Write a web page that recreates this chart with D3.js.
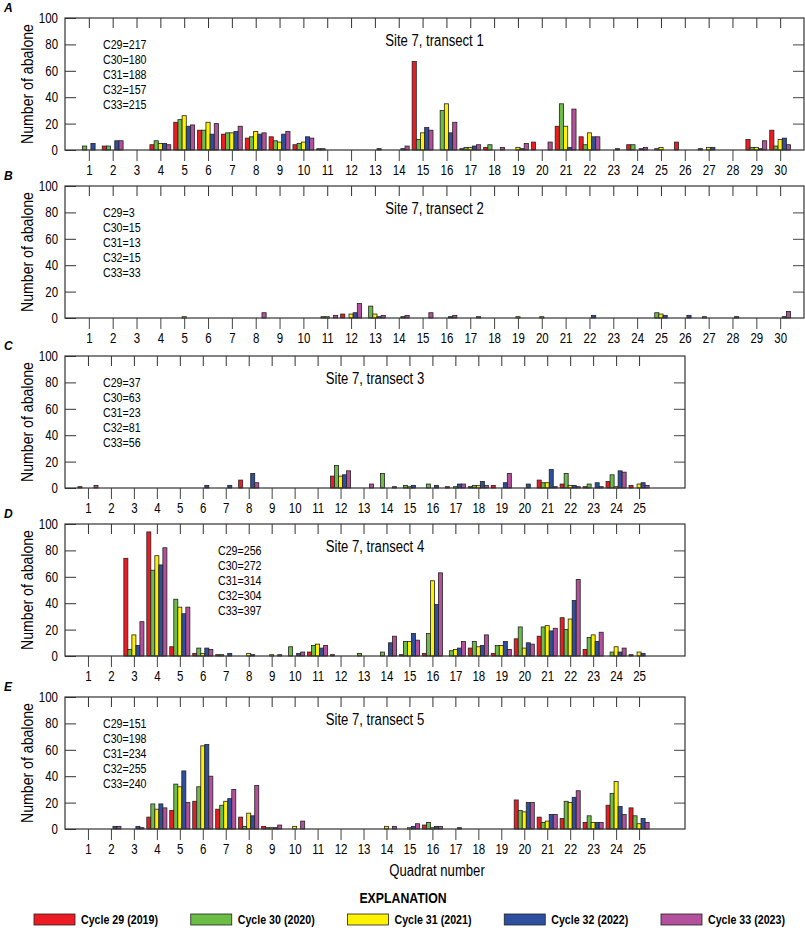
<!DOCTYPE html>
<head>
  <meta charset="utf-8">
  <script src="https://d3js.org/d3.v7.min.js"></script>
  <style>
    body { margin:0; background:#fff; }
    text { font-family: "Liberation Sans", Arial, sans-serif; }
    /* squeeze text horizontally to imitate the condensed face */
    .nar { transform-box: fill-box; transform: scaleX(0.82); }
    .nar-s { transform-origin: left center; }
    .nar-m { transform-origin: center center; }
    .nar-e { transform-origin: right center; }
  </style>
</head>
<body>
<script>

  // series (cycles) and their colours
  var cycles = ["Cycle 29 (2019)", "Cycle 30 (2020)", "Cycle 31 (2021)", "Cycle 32 (2022)", "Cycle 33 (2023)"];
  var cycleCodes = ["C29", "C30", "C31", "C32", "C33"];
  var colors = ["#ed1c24", "#6cbd45", "#fff200", "#2e4f9f", "#b5519c"];

  var yTicks = [0, 20, 40, 60, 80, 100];

  // one row per quadrat: [C29, C30, C31, C32, C33]
  var transect1 = [
    [0,3,0,5,0], [3,3,0,7,7], [0,0,0,0,0], [4,7,5,5,4], [21,23,26,18,19],
    [15,15,21,12,20], [12,13,13,14,18], [9,10,14,12,13], [10,7,6,12,14], [4,5,6,10,9],
    [1,1,0,0,0], [0,0,0,0,0], [0,0,0,1,0], [0,0,0,1,3], [67,8,13,17,15],
    [0,30,35,13,21], [1,2,2,3,4], [2,4,0,0,2], [0,0,2,1,5], [6,0,0,0,6],
    [18,35,18,2,31], [10,4,13,10,10], [0,0,0,1,0], [4,4,0,1,2], [0,1,2,0,0],
    [6,0,0,0,0], [1,0,2,2,0], [0,0,0,0,0], [8,2,2,1,7], [15,3,8,9,4]
  ];
  var transect2 = [
    [0,0,0,0,0], [0,0,0,0,0], [0,0,0,0,0], [0,0,0,0,0], [0,0,1,0,0],
    [0,0,0,0,0], [0,0,0,0,0], [0,0,0,0,4], [0,0,0,0,0], [0,0,0,0,0],
    [0,1,1,0,2], [3,0,3,4,11], [0,9,3,1,2], [0,0,0,1,2], [0,0,0,0,4],
    [0,0,0,1,2], [0,0,0,0,1], [0,0,0,0,0], [0,0,1,0,0], [0,0,1,0,0],
    [0,0,0,0,0], [0,0,0,2,0], [0,0,0,0,0], [0,0,0,0,0], [0,4,3,2,0],
    [0,0,0,2,0], [0,1,0,0,0], [0,0,0,1,0], [0,0,0,0,0], [0,0,0,1,5]
  ];
  var transect3 = [
    [1,0,0,0,2], [0,0,0,0,0], [0,0,0,0,0], [0,0,0,0,0], [0,0,0,0,0],
    [0,0,0,2,0], [0,0,0,2,0], [6,0,0,11,4], [0,0,0,0,0], [0,0,0,0,0],
    [0,0,0,0,0], [9,17,9,10,13], [0,0,0,0,3], [0,11,0,0,1], [0,2,1,2,0],
    [0,3,0,2,0], [1,0,1,3,3], [1,2,2,5,2], [2,0,0,4,11], [0,0,0,3,0],
    [6,4,4,14,1], [3,11,2,2,1], [1,3,0,4,1], [5,10,1,13,12], [2,0,3,4,2]
  ];
  var transect4 = [
    [0,0,0,0,0], [0,0,0,0,0], [74,5,16,8,26], [94,65,76,69,82], [7,43,37,32,37],
    [2,6,2,6,5], [1,1,0,2,0], [0,0,2,1,0], [0,0,1,0,1], [0,7,0,2,3],
    [3,8,9,6,8], [1,0,0,0,0], [0,2,0,0,0], [0,3,0,10,15], [1,11,11,17,12],
    [2,17,57,39,63], [0,4,5,6,11], [6,11,7,8,16], [2,8,8,11,5], [13,22,6,10,9],
    [15,22,23,19,21], [29,20,28,42,58], [5,14,16,11,18], [0,3,7,3,6], [1,0,3,2,0]
  ];
  var transect5 = [
    [0,0,0,0,0], [0,0,0,2,2], [0,0,0,2,1], [9,19,15,19,16], [14,34,32,44,20],
    [21,32,63,64,40], [15,18,21,23,30], [9,2,12,10,33], [2,1,1,1,3], [0,0,2,0,6],
    [0,0,0,0,0], [0,0,0,0,0], [0,0,0,0,0], [0,0,2,0,2], [0,0,1,2,4],
    [3,5,1,2,2], [0,0,0,1,0], [0,0,0,0,0], [0,0,0,0,0], [22,14,13,20,20],
    [9,5,6,11,11], [8,21,20,24,29], [5,10,5,5,5], [18,27,36,17,11], [16,10,4,8,5]
  ];

  // totals printed in each panel
  var totals1 = [217, 180, 188, 157, 215];
  var totals2 = [3, 15, 13, 15, 33];
  var totals3 = [37, 63, 23, 81, 56];
  var totals4 = [256, 272, 314, 304, 397];
  var totals5 = [151, 198, 234, 255, 240];

  var panels = [
    {letter: "A", title: "Site 7, transect 1", data: transect1, totals: totals1, top: 18,  slots: 31, right: 804, noteX: 103},
    {letter: "B", title: "Site 7, transect 2", data: transect2, totals: totals2, top: 186, slots: 31, right: 804, noteX: 103},
    {letter: "C", title: "Site 7, transect 3", data: transect3, totals: totals3, top: 356, slots: 27, right: 685, noteX: 103},
    {letter: "D", title: "Site 7, transect 4", data: transect4, totals: totals4, top: 524, slots: 27, right: 685, noteX: 218},
    {letter: "E", title: "Site 7, transect 5", data: transect5, totals: totals5, top: 697, slots: 27, right: 685, noteX: 103}
  ];

  var W = 805, H = 931;
  var left = 65, plotH = 132;

  var svg = d3.select("body").append("svg")
    .attr("width", W)
    .attr("height", H);

  panels.forEach(function(p) {
    var n = p.data.length;
    var quads = d3.range(1, n + 1);

    var x = d3.scaleLinear()
      .domain([0, p.slots])
      .range([left, p.right]);

    var y = d3.scaleLinear()
      .domain([0, 100])
      .range([p.top + plotH, p.top]);

    var step = x(1) - x(0);
    var bw = step * 0.175;

    var g = svg.append("g");

    // bars
    p.data.forEach(function(row, qi) {
      row.forEach(function(v, si) {
        if (v <= 0) return;
        g.append("rect")
          .attr("x", x(qi + 1) + (si - 2.5) * bw)
          .attr("y", y(v))
          .attr("width", bw)
          .attr("height", y(0) - y(v))
          .attr("fill", colors[si])
          .attr("stroke", "#222")
          .attr("stroke-width", 0.8);
      });
    });

    // left axis
    g.append("g")
      .attr("transform", "translate(" + left + ",0)")
      .call(d3.axisLeft(y).tickValues(yTicks).tickSize(-11).tickPadding(7))
      .call(function(a) { a.select(".domain").remove(); })
      .call(function(a) {
        a.selectAll("line").attr("stroke", "#333");
        a.selectAll("text").attr("class", "nar nar-e")
          .style("font-size", "14px").attr("fill", "#000");
      });

    // right axis
    g.append("g")
      .attr("transform", "translate(" + p.right + ",0)")
      .call(d3.axisRight(y).tickValues([20, 40, 60, 80]).tickSize(-11).tickFormat(""))
      .call(function(a) { a.select(".domain").remove(); })
      .call(function(a) { a.selectAll("line").attr("stroke", "#444"); });

    // top axis (ticks only)
    g.append("g")
      .attr("transform", "translate(0," + p.top + ")")
      .call(d3.axisTop(x).tickValues(quads).tickSize(-10).tickFormat(""))
      .call(function(a) { a.select(".domain").remove(); })
      .call(function(a) { a.selectAll("line").attr("stroke", "#333"); });

    // bottom axis
    g.append("g")
      .attr("transform", "translate(0," + (p.top + plotH) + ")")
      .call(d3.axisBottom(x).tickValues(quads).tickSize(11).tickPadding(4))
      .call(function(a) { a.select(".domain").remove(); })
      .call(function(a) {
        a.selectAll("line").attr("stroke", "#444");
        a.selectAll("text").attr("class", "nar nar-m")
          .style("font-size", "14px").attr("fill", "#000");
      });

    // frame
    g.append("rect")
      .attr("x", left)
      .attr("y", p.top)
      .attr("width", p.right - left)
      .attr("height", plotH)
      .attr("fill", "none")
      .attr("stroke", "#333")
      .attr("stroke-width", 1.2);

    // panel letter
    g.append("text")
      .attr("x", 4)
      .attr("y", p.top - 6)
      .style("font-size", "12px")
      .style("font-weight", "bold")
      .style("font-style", "italic")
      .text(p.letter);

    // y label
    g.append("text")
      .attr("transform", "translate(33," + (p.top + plotH / 2) + ") rotate(-90) scale(0.83,1)")
      .style("text-anchor", "middle")
      .style("font-size", "17px")
      .text("Number of abalone");

    // title
    g.append("text")
      .attr("class", "nar nar-m")
      .attr("x", (left + p.right) / 2)
      .attr("y", p.top + 28)
      .style("text-anchor", "middle")
      .style("font-size", "16px")
      .text(p.title);

    // totals
    p.totals.forEach(function(t, i) {
      g.append("text")
        .attr("class", "nar nar-s")
        .attr("x", p.noteX)
        .attr("y", p.top + 31 + i * 15)
        .style("font-size", "13px")
        .text(cycleCodes[i] + "=" + t);
    });
  });

  // x label
  svg.append("text")
    .attr("class", "nar nar-m")
    .attr("x", 437)
    .attr("y", 876)
    .style("text-anchor", "middle")
    .style("font-size", "16px")
    .text("Quadrat number");

  // legend
  svg.append("text")
    .attr("class", "nar nar-m")
    .attr("x", 403)
    .attr("y", 903)
    .style("text-anchor", "middle")
    .style("font-size", "15px")
    .style("font-weight", "bold")
    .text("EXPLANATION");

  var lx = d3.scaleLinear().domain([0, 4]).range([34, 661]);

  cycles.forEach(function(c, i) {
    svg.append("rect")
      .attr("x", lx(i))
      .attr("y", 914)
      .attr("width", 41)
      .attr("height", 11)
      .attr("fill", colors[i])
      .attr("stroke", "#222")
      .attr("stroke-width", 0.8);
    svg.append("text")
      .attr("class", "nar nar-s")
      .attr("x", lx(i) + 47)
      .attr("y", 924)
      .style("font-size", "13px")
      .style("font-weight", "bold")
      .text(c);
  });

</script>
</body>
